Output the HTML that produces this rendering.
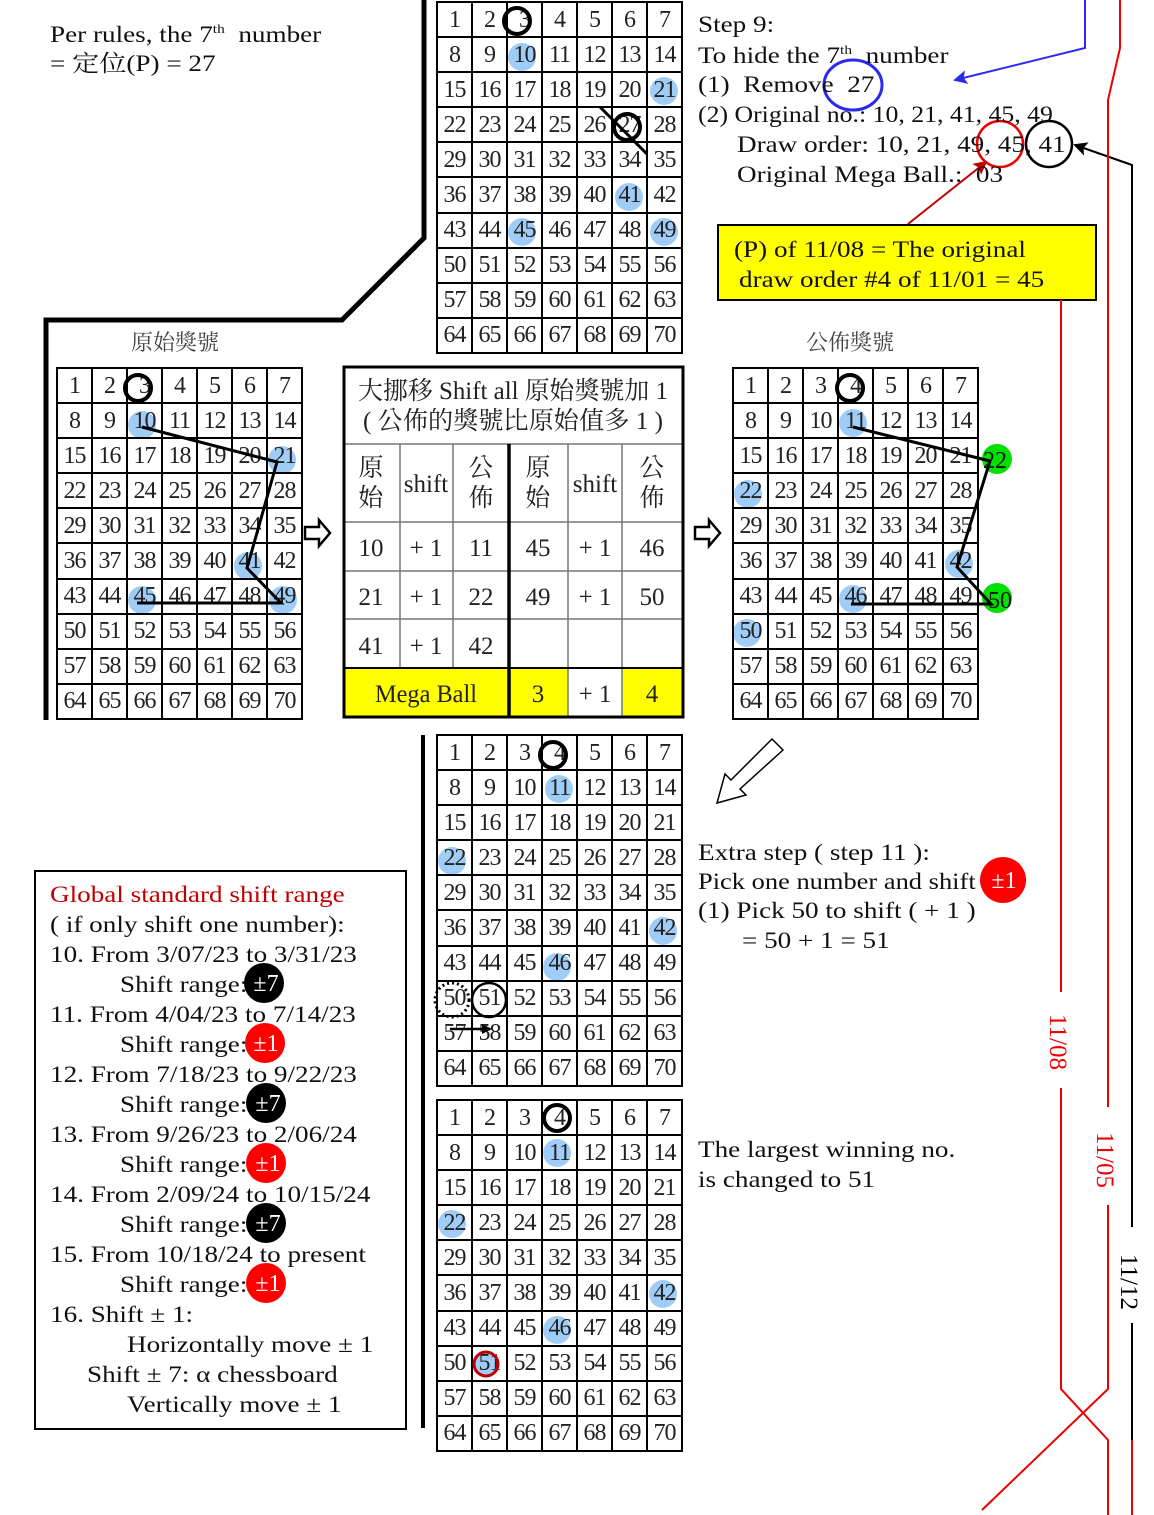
<!DOCTYPE html>
<html><head><meta charset="utf-8">
<style>
*{margin:0;padding:0;box-sizing:border-box}
html,body{width:1154px;height:1515px;background:#fff;overflow:hidden}
body{position:relative;font-family:"Liberation Serif","Noto Serif CJK SC",serif;color:#111}
svg.layer{position:absolute;left:0;top:0;width:1154px;height:1515px}
#under{z-index:0}#over{z-index:2}
table.g{position:absolute;z-index:1;width:247px;height:353px;border-collapse:collapse;table-layout:fixed;background:transparent}
table.g td{border:2px solid #000;text-align:center;vertical-align:middle;font-size:24px;color:#222;padding:0;line-height:1;letter-spacing:-1px}
.t{position:absolute;z-index:3;font-size:23px;white-space:pre;line-height:1;transform:scaleX(1.18);transform-origin:0 0}
sup{font-size:13px;vertical-align:9px}
</style></head><body>

<svg class="layer" id="under" viewBox="0 0 1154 1515">
<g fill="#9fcdf7">
<circle cx="522" cy="57" r="14"/><circle cx="664" cy="91" r="14"/><circle cx="629" cy="197" r="14"/><circle cx="522" cy="232" r="14"/><circle cx="664" cy="232" r="14"/>
<circle cx="142" cy="425" r="14"/><circle cx="282" cy="460" r="14"/><circle cx="248" cy="566" r="14"/><circle cx="142" cy="600" r="14"/><circle cx="283" cy="600" r="14"/>
<circle cx="853" cy="423" r="14"/><circle cx="748" cy="494" r="14"/><circle cx="959" cy="564" r="14"/><circle cx="853" cy="599" r="14"/><circle cx="747" cy="633" r="14"/>
<circle cx="559" cy="789" r="14"/><circle cx="452" cy="861" r="14"/><circle cx="663" cy="931" r="14"/><circle cx="557" cy="967" r="14"/>
<circle cx="557" cy="1153" r="14"/><circle cx="452" cy="1224" r="14"/><circle cx="663" cy="1294" r="14"/><circle cx="557" cy="1330" r="14"/><circle cx="486" cy="1364" r="12"/>
</g>
<g fill="#00e000"><circle cx="997" cy="459" r="15"/><circle cx="997" cy="598" r="15"/></g>
<rect x="718" y="225" width="378" height="75" fill="#ff0" stroke="#000" stroke-width="2"/>
<rect x="343" y="668" width="166" height="49" fill="#ff0"/>
<rect x="509" y="668" width="59" height="49" fill="#ff0"/>
<rect x="622" y="668" width="61" height="49" fill="#ff0"/>
</svg>

<table class="g" style="left:436px;top:1px"><tr><td>1<td>2<td>3<td>4<td>5<td>6<td>7<tr><td>8<td>9<td>10<td>11<td>12<td>13<td>14<tr><td>15<td>16<td>17<td>18<td>19<td>20<td>21<tr><td>22<td>23<td>24<td>25<td>26<td>27<td>28<tr><td>29<td>30<td>31<td>32<td>33<td>34<td>35<tr><td>36<td>37<td>38<td>39<td>40<td>41<td>42<tr><td>43<td>44<td>45<td>46<td>47<td>48<td>49<tr><td>50<td>51<td>52<td>53<td>54<td>55<td>56<tr><td>57<td>58<td>59<td>60<td>61<td>62<td>63<tr><td>64<td>65<td>66<td>67<td>68<td>69<td>70</table>
<table class="g" style="left:56px;top:367px"><tr><td>1<td>2<td>3<td>4<td>5<td>6<td>7<tr><td>8<td>9<td>10<td>11<td>12<td>13<td>14<tr><td>15<td>16<td>17<td>18<td>19<td>20<td>21<tr><td>22<td>23<td>24<td>25<td>26<td>27<td>28<tr><td>29<td>30<td>31<td>32<td>33<td>34<td>35<tr><td>36<td>37<td>38<td>39<td>40<td>41<td>42<tr><td>43<td>44<td>45<td>46<td>47<td>48<td>49<tr><td>50<td>51<td>52<td>53<td>54<td>55<td>56<tr><td>57<td>58<td>59<td>60<td>61<td>62<td>63<tr><td>64<td>65<td>66<td>67<td>68<td>69<td>70</table>
<table class="g" style="left:732px;top:367px"><tr><td>1<td>2<td>3<td>4<td>5<td>6<td>7<tr><td>8<td>9<td>10<td>11<td>12<td>13<td>14<tr><td>15<td>16<td>17<td>18<td>19<td>20<td>21<tr><td>22<td>23<td>24<td>25<td>26<td>27<td>28<tr><td>29<td>30<td>31<td>32<td>33<td>34<td>35<tr><td>36<td>37<td>38<td>39<td>40<td>41<td>42<tr><td>43<td>44<td>45<td>46<td>47<td>48<td>49<tr><td>50<td>51<td>52<td>53<td>54<td>55<td>56<tr><td>57<td>58<td>59<td>60<td>61<td>62<td>63<tr><td>64<td>65<td>66<td>67<td>68<td>69<td>70</table>
<table class="g" style="left:436px;top:734px"><tr><td>1<td>2<td>3<td>4<td>5<td>6<td>7<tr><td>8<td>9<td>10<td>11<td>12<td>13<td>14<tr><td>15<td>16<td>17<td>18<td>19<td>20<td>21<tr><td>22<td>23<td>24<td>25<td>26<td>27<td>28<tr><td>29<td>30<td>31<td>32<td>33<td>34<td>35<tr><td>36<td>37<td>38<td>39<td>40<td>41<td>42<tr><td>43<td>44<td>45<td>46<td>47<td>48<td>49<tr><td>50<td>51<td>52<td>53<td>54<td>55<td>56<tr><td>57<td>58<td>59<td>60<td>61<td>62<td>63<tr><td>64<td>65<td>66<td>67<td>68<td>69<td>70</table>
<table class="g" style="left:436px;top:1099px"><tr><td>1<td>2<td>3<td>4<td>5<td>6<td>7<tr><td>8<td>9<td>10<td>11<td>12<td>13<td>14<tr><td>15<td>16<td>17<td>18<td>19<td>20<td>21<tr><td>22<td>23<td>24<td>25<td>26<td>27<td>28<tr><td>29<td>30<td>31<td>32<td>33<td>34<td>35<tr><td>36<td>37<td>38<td>39<td>40<td>41<td>42<tr><td>43<td>44<td>45<td>46<td>47<td>48<td>49<tr><td>50<td>51<td>52<td>53<td>54<td>55<td>56<tr><td>57<td>58<td>59<td>60<td>61<td>62<td>63<tr><td>64<td>65<td>66<td>67<td>68<td>69<td>70</table>

<svg class="layer" id="over" viewBox="0 0 1154 1515">
<defs>
<marker id="ab" markerWidth="10" markerHeight="10" refX="8" refY="5" orient="auto" markerUnits="userSpaceOnUse"><path d="M0,0 L10,5 L0,10 Z" fill="#000"/></marker>
<marker id="ab2" markerWidth="14" markerHeight="14" refX="12" refY="7" orient="auto" markerUnits="userSpaceOnUse"><path d="M0,0 L14,7 L0,14 L3,7 Z" fill="#000"/></marker>
<marker id="ablue" markerWidth="14" markerHeight="14" refX="12" refY="7" orient="auto" markerUnits="userSpaceOnUse"><path d="M0,0 L14,7 L0,14 L3,7 Z" fill="#2b2bf0"/></marker>
<marker id="ared" markerWidth="14" markerHeight="14" refX="12" refY="7" orient="auto" markerUnits="userSpaceOnUse"><path d="M0,0 L14,7 L0,14 L3,7 Z" fill="#c00000"/></marker>
</defs>
<polyline points="46,720 46,320 342,320 424,238 424,0" fill="none" stroke="#000" stroke-width="5"/>
<line x1="423" y1="735" x2="423" y2="1428" stroke="#000" stroke-width="4"/>
<circle cx="517" cy="21" r="13" fill="none" stroke="#000" stroke-width="4"/>
<circle cx="627" cy="127" r="13" fill="none" stroke="#000" stroke-width="4"/>
<line x1="600" y1="107" x2="647" y2="154" stroke="#000" stroke-width="3"/>
<circle cx="138" cy="388" r="13" fill="none" stroke="#000" stroke-width="4"/>
<polyline points="142,427 277,462 247,568 281,603 137,603" fill="none" stroke="#000" stroke-width="3"/>
<circle cx="850" cy="388" r="13" fill="none" stroke="#000" stroke-width="4"/>
<polyline points="853,427 990,461 957,567 991,604 851,604" fill="none" stroke="#000" stroke-width="3"/>
<text x="995" y="468" font-size="24" text-anchor="middle" fill="#111">22</text>
<text x="1000" y="608" font-size="24" text-anchor="middle" fill="#111">50</text>
<circle cx="553" cy="755" r="13" fill="none" stroke="#000" stroke-width="4"/>
<circle cx="452" cy="1000" r="17" fill="none" stroke="#000" stroke-width="3" stroke-dasharray="2,3"/>
<circle cx="489" cy="1000" r="17" fill="none" stroke="#000" stroke-width="2.5"/>
<line x1="450" y1="1029" x2="490" y2="1029" stroke="#000" stroke-width="2.5" marker-end="url(#ab)"/>
<circle cx="557" cy="1118" r="13" fill="none" stroke="#000" stroke-width="4"/>
<circle cx="486" cy="1364" r="12" fill="none" stroke="#c00000" stroke-width="3"/>
<path d="M305,527 h14 v-7 l11,13 l-11,13 v-7 h-14 z" fill="#fff" stroke="#000" stroke-width="2.5"/>
<path d="M695,527 h14 v-7 l11,13 l-11,13 v-7 h-14 z" fill="#fff" stroke="#000" stroke-width="2.5"/>
<path d="M783,750 L772,739 L731,780 L725,774 L717,803 L746,795 L740,789 Z" fill="#fff" stroke="#000" stroke-width="1.5"/>
<g stroke="#777" stroke-width="1.5">
<line x1="343" y1="444" x2="683" y2="444"/>
<line x1="343" y1="522" x2="683" y2="522"/>
<line x1="343" y1="571" x2="683" y2="571"/>
<line x1="343" y1="619" x2="683" y2="619"/>
<line x1="400" y1="444" x2="400" y2="668"/>
<line x1="453" y1="444" x2="453" y2="668"/>
<line x1="568" y1="444" x2="568" y2="717"/>
<line x1="622" y1="444" x2="622" y2="717"/>
</g>
<line x1="343" y1="668" x2="683" y2="668" stroke="#000" stroke-width="2"/>
<line x1="509" y1="444" x2="509" y2="717" stroke="#000" stroke-width="3.5"/>
<rect x="344" y="367" width="339" height="350" fill="none" stroke="#000" stroke-width="3"/>
<g font-family="Liberation Serif,Noto Serif CJK TC,serif" font-size="25" fill="#222" text-anchor="middle">
<text x="513" y="399" textLength="310" lengthAdjust="spacingAndGlyphs">大挪移 Shift all 原始獎號加 1</text>
<text x="513" y="429" textLength="300" lengthAdjust="spacingAndGlyphs">( 公佈的獎號比原始值多 1 )</text>
<text x="371" y="476">原</text><text x="371" y="506">始</text>
<text x="426" y="492">shift</text>
<text x="481" y="476">公</text><text x="481" y="506">佈</text>
<text x="538" y="476">原</text><text x="538" y="506">始</text>
<text x="595" y="492">shift</text>
<text x="652" y="476">公</text><text x="652" y="506">佈</text>
<text x="371" y="556">10</text><text x="426" y="556">+ 1</text><text x="481" y="556">11</text>
<text x="538" y="556">45</text><text x="595" y="556">+ 1</text><text x="652" y="556">46</text>
<text x="371" y="605">21</text><text x="426" y="605">+ 1</text><text x="481" y="605">22</text>
<text x="538" y="605">49</text><text x="595" y="605">+ 1</text><text x="652" y="605">50</text>
<text x="371" y="654">41</text><text x="426" y="654">+ 1</text><text x="481" y="654">42</text>
<text x="426" y="702" textLength="102" lengthAdjust="spacingAndGlyphs">Mega Ball</text><text x="538" y="702">3</text><text x="595" y="702">+ 1</text><text x="652" y="702">4</text>
</g>
<ellipse cx="853" cy="85" rx="29" ry="25" fill="none" stroke="#2b2bf0" stroke-width="3"/>
<circle cx="1000" cy="144" r="23" fill="none" stroke="#e00" stroke-width="2.5"/>
<circle cx="1049" cy="144" r="23" fill="none" stroke="#000" stroke-width="2.5"/>
<line x1="908" y1="224" x2="986" y2="162" stroke="#c00000" stroke-width="2" marker-end="url(#ared)"/>
<polyline points="1085,0 1085,48 955,80" fill="none" stroke="#2b2bf0" stroke-width="2" marker-end="url(#ablue)"/>
<polyline points="1132,1227 1132,165 1075,145" fill="none" stroke="#000" stroke-width="2" marker-end="url(#ab2)"/>
<g fill="none" stroke-width="2">
<polyline points="1120,0 1120,48 1108,100 1108,1107" stroke="#e00"/>
<polyline points="1108,1205 1108,1389 982,1510" stroke="#e00"/>
<polyline points="1061,300 1061,992" stroke="#e00"/>
<polyline points="1061,1088 1061,1389 1108,1440 1108,1515" stroke="#e00"/>
<polyline points="1132,1323 1132,1440" stroke="#000"/>
<polyline points="1132,1440 1132,1515" stroke="#e00"/>
</g>
<g font-size="25" font-family="Liberation Serif,serif">
<text transform="translate(1050,1042) rotate(90)" text-anchor="middle" fill="#e00">11/08</text>
<text transform="translate(1097,1160) rotate(90)" text-anchor="middle" fill="#e00">11/05</text>
<text transform="translate(1121,1282) rotate(90)" text-anchor="middle" fill="#000">11/12</text>
</g>
<rect x="35" y="871" width="371" height="558" fill="none" stroke="#000" stroke-width="2"/>
<g fill="#000"><circle cx="264" cy="983" r="20"/><circle cx="266" cy="1103" r="20"/><circle cx="266" cy="1223" r="20"/></g>
<g fill="#f00"><circle cx="265" cy="1043" r="20"/><circle cx="266" cy="1163" r="20"/><circle cx="266" cy="1283" r="20"/><circle cx="1003" cy="880" r="23"/></g>
<g font-size="24" fill="#fff" text-anchor="middle">
<text x="266" y="991">±7</text><text x="266" y="1051">±1</text><text x="268" y="1111">±7</text>
<text x="268" y="1171">±1</text><text x="268" y="1231">±7</text><text x="268" y="1291">±1</text>
<text x="1004" y="888">±1</text>
</g>
</svg>

<div class="t" style="left:50px;top:22px">Per rules, the 7<sup>th</sup>  number</div>
<div class="t" style="left:50px;top:52px">= 定位(P) = 27</div>
<div class="t" style="left:131px;top:332px;color:#444;transform:none;font-size:22px">原始獎號</div>
<div class="t" style="left:806px;top:332px;color:#444;transform:none;font-size:22px">公佈獎號</div>

<div class="t" style="left:698px;top:13px">Step 9:</div>
<div class="t" style="left:698px;top:43px">To hide the 7<sup>th</sup>  number</div>
<div class="t" style="left:698px;top:73px">(1)  Remove  27</div>
<div class="t" style="left:698px;top:103px;transform:scaleX(1.12)">(2) Original no.: 10, 21, 41, 45, 49</div>
<div class="t" style="left:737px;top:133px">Draw order: 10, 21, 49, 45, 41</div>
<div class="t" style="left:737px;top:163px">Original Mega Ball.:  03</div>
<div class="t" style="left:734px;top:238px">(P) of 11/08 = The original</div>
<div class="t" style="left:739px;top:268px">draw order #4 of 11/01 = 45</div>

<div class="t" style="left:698px;top:841px">Extra step ( step 11 ):</div>
<div class="t" style="left:698px;top:870px;transform:scaleX(1.15)">Pick one number and shift</div>
<div class="t" style="left:698px;top:899px">(1) Pick 50 to shift ( + 1 )</div>
<div class="t" style="left:742px;top:929px">= 50 + 1 = 51</div>
<div class="t" style="left:698px;top:1138px">The largest winning no.</div>
<div class="t" style="left:698px;top:1168px">is changed to 51</div>

<div class="t" style="left:50px;top:883px;color:#c00000">Global standard shift range</div>
<div class="t" style="left:50px;top:913px">( if only shift one number):</div>
<div class="t" style="left:50px;top:943px">10. From 3/07/23 to 3/31/23</div>
<div class="t" style="left:120px;top:973px">Shift range:</div>
<div class="t" style="left:50px;top:1003px">11. From 4/04/23 to 7/14/23</div>
<div class="t" style="left:120px;top:1033px">Shift range:</div>
<div class="t" style="left:50px;top:1063px">12. From 7/18/23 to 9/22/23</div>
<div class="t" style="left:120px;top:1093px">Shift range:</div>
<div class="t" style="left:50px;top:1123px">13. From 9/26/23 to 2/06/24</div>
<div class="t" style="left:120px;top:1153px">Shift range:</div>
<div class="t" style="left:50px;top:1183px">14. From 2/09/24 to 10/15/24</div>
<div class="t" style="left:120px;top:1213px">Shift range:</div>
<div class="t" style="left:50px;top:1243px">15. From 10/18/24 to present</div>
<div class="t" style="left:120px;top:1273px">Shift range:</div>
<div class="t" style="left:50px;top:1303px">16. Shift ± 1:</div>
<div class="t" style="left:127px;top:1333px">Horizontally move ± 1</div>
<div class="t" style="left:87px;top:1363px">Shift ± 7: α chessboard</div>
<div class="t" style="left:127px;top:1393px">Vertically move ± 1</div>
</body></html>
